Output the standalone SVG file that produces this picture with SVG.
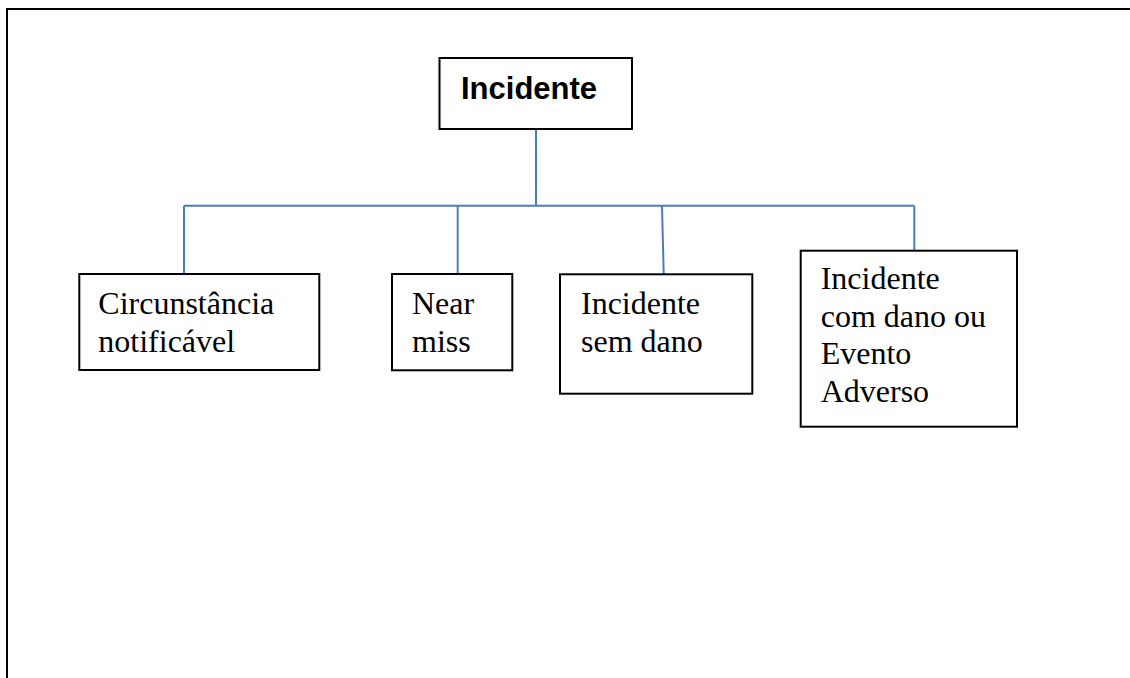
<svg xmlns="http://www.w3.org/2000/svg" width="1130" height="678" viewBox="0 0 1130 678">
<style>
.box{fill:#fff;stroke:#000;stroke-width:2}
.t{font-family:"Liberation Serif","Times New Roman",serif;font-size:32px;fill:#000}
.b{font-family:"Liberation Sans",Arial,sans-serif;font-size:31px;font-weight:bold;fill:#000}
.c{fill:none;stroke:#4A7EBB;stroke-width:2}
</style>
<rect width="1130" height="678" fill="#fff"/>
<path d="M7,678 V9 H1130" fill="none" stroke="#000" stroke-width="2"/>
<g id="connectors">
<path class="c" d="M536,129 V205.7"/>
<path class="c" d="M184,205.7 H914.3"/>
<path class="c" d="M184,205.7 V274"/>
<path class="c" d="M457.7,205.7 V274"/>
<path class="c" d="M662,205.7 L663.7,274"/>
<path class="c" d="M914.3,205.7 V250.7"/>
</g>
<g id="incidente">
<rect class="box" x="439.5" y="58" width="192.5" height="71"/>
<text class="b" x="461" y="99">Incidente</text>
</g>
<g id="circunstancia">
<rect class="box" x="79.3" y="274" width="240" height="96"/>
<text class="t" x="98.3" y="314">Circunstância</text>
<text class="t" x="98.3" y="351.7">notificável</text>
</g>
<g id="near-miss">
<rect class="box" x="392" y="274" width="120.3" height="96.3"/>
<text class="t" x="412" y="314">Near</text>
<text class="t" x="412" y="351.7">miss</text>
</g>
<g id="incidente-sem-dano">
<rect class="box" x="560" y="274.3" width="192.3" height="119.4"/>
<text class="t" x="581" y="314">Incidente</text>
<text class="t" x="581" y="351.7">sem dano</text>
</g>
<g id="incidente-com-dano">
<rect class="box" x="800.7" y="250.7" width="216.3" height="176"/>
<text class="t" x="820.7" y="289">Incidente</text>
<text class="t" x="820.7" y="327">com dano ou</text>
<text class="t" x="820.7" y="364.3">Evento</text>
<text class="t" x="820.7" y="401.7">Adverso</text>
</g>
</svg>
